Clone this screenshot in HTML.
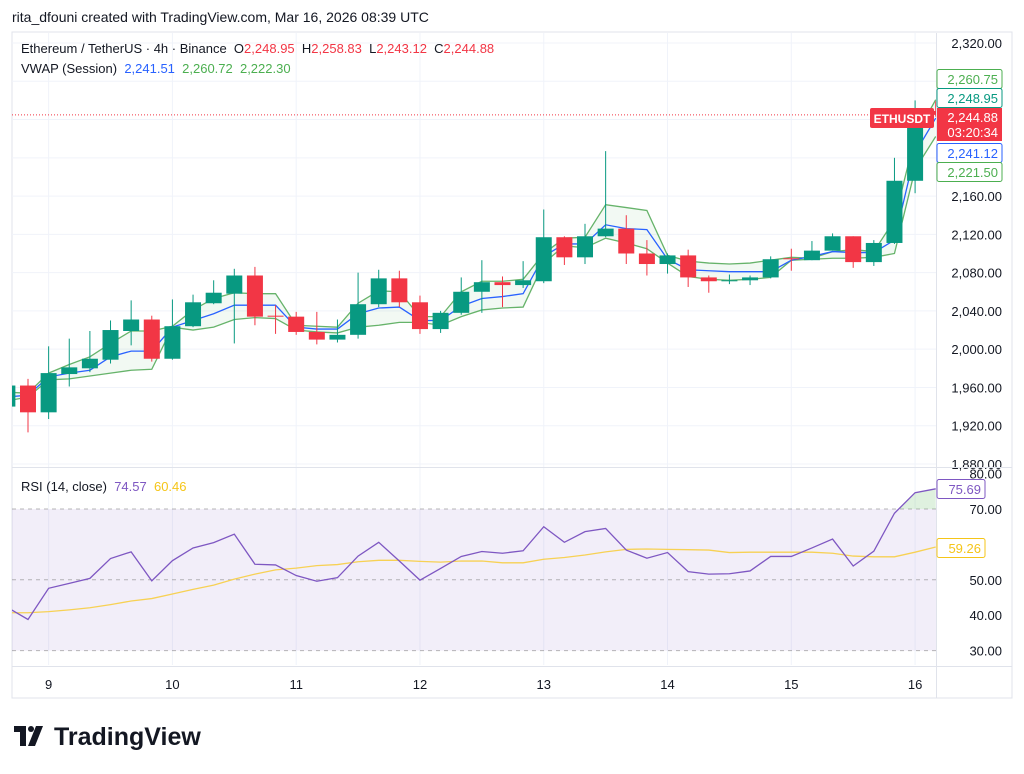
<!DOCTYPE html>
<html><head><meta charset="utf-8"><style>
body{margin:0;background:#fff;width:1024px;height:769px;overflow:hidden;font-family:"Liberation Sans",sans-serif;}
svg text{font-family:"Liberation Sans",sans-serif;}
</style></head><body>
<svg id="c" width="1024" height="769" xmlns="http://www.w3.org/2000/svg"></svg>
<script>
const dayLabels=['9','10','11','12','13','14','15','16'];
const priceTicks=[2320,2160,2120,2080,2040,2000,1960,1920,1880];
const rsiTicks=[80,70,50,40,30];
const opens=[1940,1962,1934,1974,1980,1989,2019,2031,1990,2024,2048,2058,2077,2035,2034,2018,2010,2015,2047,2074,2049,2021,2038,2060,2070,2067,2071,2117,2096,2118,2126,2100,2089,2098,2075,2071,2072,2075,2095,2093,2103,2118,2091,2111,2176,2249];
const highs=[1965,1969,2003,2011,2019,2030,2051,2035,2052,2057,2072,2084,2086,2046,2039,2039,2031,2080,2083,2082,2056,2040,2075,2093,2076,2092,2146,2118,2131,2207,2140,2114,2100,2104,2077,2078,2077,2097,2105,2113,2121,2118,2114,2200,2260,2259];
const lows=[1935,1913,1927,1961,1976,1985,2004,1987,1989,2023,2047,2006,2025,2016,2015,2005,2007,2011,2044,2044,2016,2017,2036,2038,2044,2064,2069,2088,2089,2117,2089,2077,2079,2065,2059,2068,2067,2074,2082,2093,2103,2085,2087,2110,2163,2243];
const closes=[1962,1934,1975,1981,1990,2020,2031,1990,2024,2049,2059,2077,2034,2034,2018,2010,2015,2047,2074,2049,2021,2038,2060,2070,2067,2072,2117,2096,2118,2126,2100,2089,2098,2075,2071,2072,2075,2094,2094,2103,2118,2091,2111,2176,2249,2244.88];
const vwap=[1950,1952,1971,1975,1978,1992,1998,1998,2023,2030,2037,2046,2046,2046,2023,2021,2021,2037,2043,2044,2030,2030,2045,2053,2055,2058,2097,2110,2110,2130,2126,2125,2094,2083,2082,2081,2081,2081,2093,2097,2102,2101,2101,2114,2205,2241.5];
const upper=[1955,1954,1975,1984,1992,2006,2019,2019,2024,2041,2053,2059,2058,2058,2025,2024,2023,2048,2061,2060,2034,2034,2060,2071,2071,2073,2100,2116,2117,2151,2148,2145,2098,2092,2090,2089,2090,2093,2096,2095,2102,2104,2102,2135,2222,2260.7];
const lower=[1946,1950,1968,1969,1972,1975,1978,1979,2023,2020,2023,2031,2033,2032,2020,2018,2017,2023,2025,2028,2028,2025,2034,2041,2043,2044,2090,2108,2106,2116,2111,2105,2090,2076,2073,2072,2073,2075,2093,2094,2095,2095,2096,2100,2188,2222.3];
const rsi=[42.2,38.8,47.6,49,50.4,56,57.9,49.7,55.4,59,60.5,62.9,54.4,54.2,51.2,49.6,50.6,56.7,60.6,55.3,49.9,53.2,56.6,58,57.5,58.2,65,60.6,63.6,64.5,58.4,56.1,57.7,52.3,51.6,51.7,52.5,56.6,56.6,59,61.5,53.9,58.1,68.8,74.6,75.7];
const rsiMa=[40.7,40.7,41,41.5,42.1,43,44,44.7,46,47.3,48.5,50.2,51.6,52.8,53.3,54,54.3,55.1,55.5,55.5,55.2,55,55.3,55.3,54.8,54.8,55.8,56.3,57,57.9,58.6,58.7,58.6,58.5,58.4,57.7,57.8,57.8,57.8,57.8,57.5,56.7,56.5,56.5,57.8,59.26];
const NS='http://www.w3.org/2000/svg';
const svg=document.getElementById('c');
function el(tag,attrs,parent){const e=document.createElementNS(NS,tag);for(const k in attrs)e.setAttribute(k,attrs[k]);(parent||svg).appendChild(e);return e;}
const X0=12,X1=936;
function xOf(i){return 28+20.63*i;}
function yP(p){return 43+(2320-p)*0.9568;}
function yR(r){return 509+(70-r)*3.54;}
function fmt(p){return p.toLocaleString('en-US',{minimumFractionDigits:2,maximumFractionDigits:2});}

let t=el('text',{x:12,y:22,'font-size':14,fill:'#131722'});t.textContent='rita_dfouni created with TradingView.com, Mar 16, 2026 08:39 UTC';

let frame=el('rect',{x:12,y:32,width:1000,height:666,fill:'none',stroke:'#e0e3eb'});


const defs=el('defs',{});
const cp=el('clipPath',{id:'pc'},defs);el('rect',{x:X0,y:33,width:X1-X0,height:434},cp);
const cr=el('clipPath',{id:'rc'},defs);el('rect',{x:X0,y:469,width:X1-X0,height:196},cr);

dayLabels.forEach((d,j)=>{const x=xOf(1+6*j);
 const g=el('line',{x1:x,x2:x,y1:33,y2:665,stroke:'#f0f3fa'});
 
 const tx=el('text',{x:x,y:689,'font-size':13,fill:'#131722','text-anchor':'middle'});tx.textContent=d;
 });
for(let p=1880;p<=2320;p+=40){const y=yP(p);const g=el('line',{x1:X0,x2:X1,y1:y,y2:y,stroke:'#f0f3fa'});
 }
priceTicks.forEach(p=>{const tx=el('text',{x:1002,y:yP(p)+5,'font-size':13,fill:'#131722','text-anchor':'end'});tx.textContent=fmt(p);
 });
let s1=el('line',{x1:X0,x2:1012,y1:467.5,y2:467.5,stroke:'#e0e3eb'});
let s2=el('line',{x1:X0,x2:1012,y1:666.5,y2:666.5,stroke:'#e0e3eb'});
let s3=el('line',{x1:936.5,x2:936.5,y1:33,y2:698,stroke:'#e0e3eb'});

const pg=el('g',{'clip-path':'url(#pc)'});

let bandPts=upper.map((u,i)=>xOf(i-1)+','+yP(u)).join(' ')+' '+lower.map((l,i)=>xOf(i-1)+','+yP(l)).reverse().join(' ');
let bf=el('polygon',{points:bandPts,fill:'rgba(76,175,80,0.07)'},pg);

function poly(arr,color,name,yf,parent){const pts=arr.map((v,i)=>xOf(i-1)+','+yf(v)).join(' ');
 const p=el('polyline',{points:pts,fill:'none',stroke:color,'stroke-width':1.3},parent);
 return p;}
poly(upper,'#66b36a','vwap-upper-band',yP,pg);
poly(lower,'#66b36a','vwap-lower-band',yP,pg);
poly(vwap,'#2962ff','vwap-line',yP,pg);
opens.forEach((o,i)=>{const c=closes[i],x=xOf(i-1),up=c>=o,col=up?'#089981':'#f23645';
 const w=el('line',{x1:x,x2:x,y1:yP(highs[i]),y2:yP(lows[i]),stroke:col,'stroke-width':1},pg);
 
 const top=yP(Math.max(o,c)),h=Math.max(1,Math.abs(yP(o)-yP(c)));
 const b=el('rect',{x:x-8,y:top,width:16,height:h,fill:col},pg);
 });
let cl=el('line',{x1:X0,x2:X1,y1:yP(closes[closes.length-1]),y2:yP(closes[closes.length-1]),stroke:'#f23645','stroke-dasharray':'1 2','stroke-width':1});


const lg=el('text',{x:21,y:53,'font-size':13,fill:'#131722',style:'white-space:pre'});

[['Ethereum / TetherUS · 4h · Binance  ','#131722'],['O','#131722'],['2,248.95  ','#f23645'],['H','#131722'],['2,258.83  ','#f23645'],['L','#131722'],['2,243.12  ','#f23645'],['C','#131722'],['2,244.88','#f23645']].forEach(a=>{const s=el('tspan',{fill:a[1]},lg);s.textContent=a[0];});
const vl=el('text',{x:21,y:73,'font-size':13,fill:'#131722',style:'white-space:pre'});

[['VWAP (Session)  ','#131722'],['2,241.51  ','#2962ff'],['2,260.72  ','#4caf50'],['2,222.30','#4caf50']].forEach(a=>{const s=el('tspan',{fill:a[1]},vl);s.textContent=a[0];});
const rl=el('text',{x:21,y:491,'font-size':13,fill:'#131722',style:'white-space:pre'});

[['RSI (14, close)  ','#131722'],['74.57  ','#7e57c2'],['60.46','#f5c518']].forEach(a=>{const s=el('tspan',{fill:a[1]},rl);s.textContent=a[0];});

function tag(y,s,col,name){const g=el('g',{});
 el('rect',{x:937,y:y-9.5,width:65,height:19,fill:'#fff',stroke:col,rx:2},g);
 const e=el('text',{x:998,y:y+5,'font-size':13,fill:col,'text-anchor':'end'},g);e.textContent=s;}
tag(79,'2,260.75','#4caf50','vwap-upper-label');
tag(98,'2,248.95','#089981','open-label');
tag(153,'2,241.12','#2962ff','vwap-label');
tag(172,'2,221.50','#4caf50','vwap-lower-label');
const pl=el('g',{});
el('rect',{x:870,y:108,width:64,height:20,fill:'#f23645',rx:2},pl);
let et=el('text',{x:902,y:123,'font-size':12,'font-weight':'bold',fill:'#fff','text-anchor':'middle'},pl);et.textContent='ETHUSDT';
el('rect',{x:937,y:108,width:65,height:33,fill:'#f23645'},pl);
let e1=el('text',{x:998,y:122,'font-size':13,fill:'#fff','text-anchor':'end'},pl);e1.textContent='2,244.88';
let e2=el('text',{x:998,y:137,'font-size':13,fill:'#fff','text-anchor':'end'},pl);e2.textContent='03:20:34';

const rg=el('g',{'clip-path':'url(#rc)'});

let bg=el('rect',{x:X0,y:yR(70),width:X1-X0,height:yR(30)-yR(70),fill:'rgba(126,87,194,0.1)'},rg);

[70,50,30].forEach(v=>{const l=el('line',{x1:X0,x2:X1,y1:yR(v),y2:yR(v),stroke:'#888','stroke-dasharray':'4 4','stroke-width':1,opacity:0.6},rg);
 });
let ob=[];rsi.forEach((v,i)=>{if(v>70)ob.push(i);});
if(ob.length){const a=ob[0]-1;const pts=[xOf(a-1+(70-rsi[a])/(rsi[a+1]-rsi[a]))+','+yR(70)];
 ob.forEach(i=>pts.push(xOf(i-1)+','+yR(rsi[i])));pts.push(xOf(ob[ob.length-1]-1)+','+yR(70));
 const f=el('polygon',{points:pts.join(' '),fill:'rgba(76,175,80,0.18)'},rg);
 }
poly(rsiMa,'#f7d154','rsi-ma-line',yR,rg);
poly(rsi,'#7e57c2','rsi-line',yR,rg);
rsiTicks.forEach(v=>{const e=el('text',{x:1002,y:yR(v)+5,'font-size':13,fill:'#131722','text-anchor':'end'});e.textContent=v.toFixed(2);
 });
function rtag(y,s,col,name){const g=el('g',{});
 el('rect',{x:937,y:y-9.5,width:48,height:19,fill:'#fff',stroke:col,rx:2},g);
 const e=el('text',{x:981,y:y+5,'font-size':13,fill:col,'text-anchor':'end'},g);e.textContent=s;}
rtag(489,'75.69','#7e57c2','rsi-value-label');
rtag(548,'59.26','#f5c518','rsi-ma-value-label');

const lgo=el('g',{});
el('path',{d:'M14 726h12v20h-6v-14h-6z',fill:'#131722'},lgo);
el('circle',{cx:31,cy:729,r:3,fill:'#131722'},lgo);
el('path',{d:'M36 726h7l-8 20h-7z',fill:'#131722'},lgo);
let lt=el('text',{x:54,y:745,'font-size':25,'font-weight':'bold',fill:'#131722'},lgo);lt.textContent='TradingView';
</script>
</body></html>
